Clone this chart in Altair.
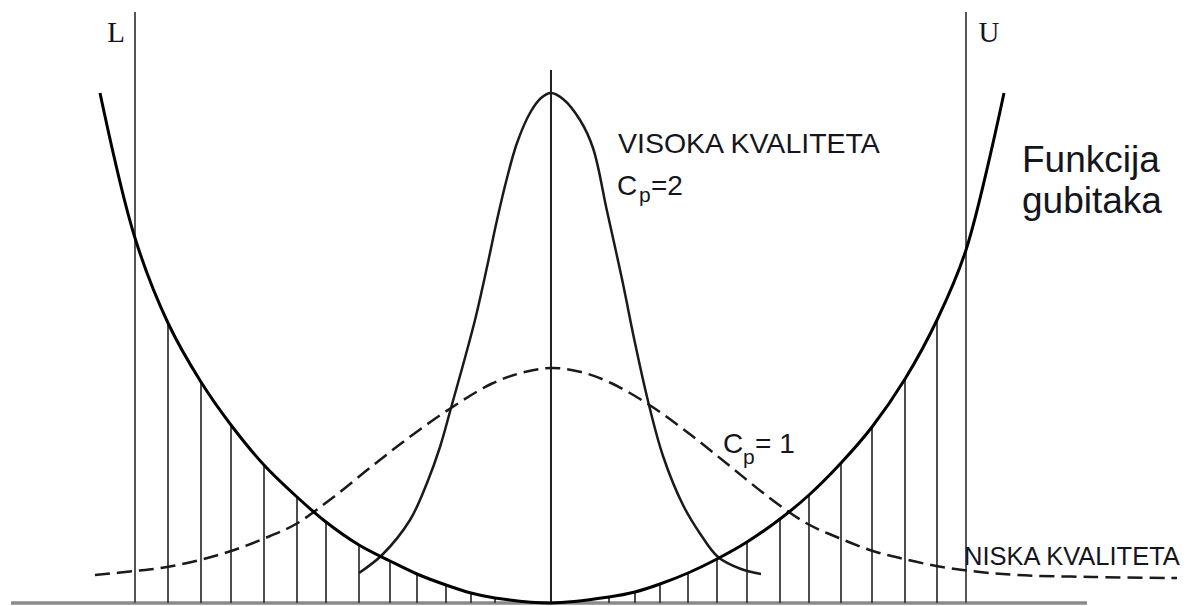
import altair as alt
import pandas as pd

# Units: x = horizontal offset from the target value, y = height above the baseline
# (both in its own pixel units)

# Loss function (Funkcija gubitaka)
loss_x = [-451, -416, -383, -350, -320, -287, -254, -225, -192, -161, -134, -105, -80, -56, 0,
          58, 84, 109, 137, 166, 196, 229, 258, 290, 321, 354, 386, 415, 453]
loss_y = [510, 365, 280, 221, 178, 138, 106, 81, 58, 42, 29, 18, 10, 5, 0,
          6, 11, 19, 30, 44, 61, 84, 108, 140, 176, 224, 283, 353, 510]

# Hatching under the loss function
hatch_x = [-383, -350, -320, -287, -254, -225, -192, -161, -134, -105, -80, -56,
           58, 84, 109, 137, 166, 196, 229, 258, 290, 321, 354, 386]
hatch_top = [280, 221, 178, 138, 106, 81, 58, 42, 29, 18, 10, 5,
             6, 11, 19, 30, 44, 61, 84, 108, 140, 176, 224, 283]

# High quality distribution, Cp = 2 (solid)
cp2_x = [-192, -169, -141, -124, -111, -100, -88, -76, -64, -54, -44, -34, -21, -10, 0,
         12, 29, 42, 56, 71, 84, 97, 112, 132, 150, 167, 190, 210]
cp2_y = [30, 48, 83, 120, 156, 195, 238, 283, 336, 383, 425, 460, 490, 505, 510,
         504, 483, 455, 392, 324, 260, 202, 147, 98, 68, 46, 34, 29]

# Low quality distribution, Cp = 1 (dashed)
cp1_x = [-456, -416, -384, -351, -320, -288, -255, -220, -180, -140, -100, -60, -30, 0,
         30, 60, 100, 140, 180, 220, 255, 288, 322, 353, 391, 429, 466, 542, 626]
cp1_y = [28, 32, 36, 43, 52, 64, 79, 104, 136, 167, 195, 219, 230, 235,
         231, 220, 197, 168, 136, 104, 80, 65, 52, 44, 36, 31, 28, 26, 25]

# Vertical reference lines: L, target, U
vline_names = ["L", "T", "U"]
vline_x = [-416, 0, 415]
vline_top = [591, 533, 591]

# Baseline extent
base_x = [-540]
base_x2 = [536]

# Texts
sans_text = ["VISOKA KVALITETA", "C", "=2", "C", "= 1", "Funkcija", "gubitaka", "NISKA KVALITETA"]
sans_x = [67, 66, 100, 172, 204, 471, 471, 413]
sans_y = [450, 408, 408, 150, 150, 431, 390, 38]
sans_size = [28.5, 28, 28, 28, 28, 37, 37, 25.5]

sub_text = ["p", "p"]
sub_x = [88, 192]
sub_y = [401, 139]

limit_text = ["L", "U"]
limit_x = [-435, 438]
limit_y = [561, 561]

XD = [-543, 636]
YD = [-3, 595]
xs = alt.Scale(domain=XD, nice=False, zero=False)
ys = alt.Scale(domain=YD, nice=False, zero=False)


def X(f="x"):
    return alt.X(f + ":Q", scale=xs, axis=None)


def Y(f="y"):
    return alt.Y(f + ":Q", scale=ys, axis=None)


base_df = pd.DataFrame({"x": base_x, "x2": base_x2, "y": [0]})
baseline = alt.Chart(base_df).mark_rule(color="#8a8a8a", strokeWidth=3.5).encode(
    x=X(), x2="x2:Q", y=Y())

v_df = pd.DataFrame({"name": vline_names, "x": vline_x, "y": [0, 0, 0], "y2": vline_top})
vlines = alt.Chart(v_df).mark_rule(strokeWidth=2).encode(
    x=X(), y=Y(), y2="y2:Q",
    color=alt.Color("name:N", scale=alt.Scale(domain=vline_names, range=["#555555", "#222222", "#555555"]), legend=None))

h_df = pd.DataFrame({"x": hatch_x, "y": [0] * len(hatch_x), "y2": hatch_top})
hatch = alt.Chart(h_df).mark_rule(color="#3a3a3a", strokeWidth=1.8).encode(
    x=X(), y=Y(), y2="y2:Q")

loss_df = pd.DataFrame({"x": loss_x, "y": loss_y, "o": range(len(loss_x))})
loss = alt.Chart(loss_df).mark_line(color="#000000", strokeWidth=3, interpolate="catmull-rom").encode(
    x=X(), y=Y(), order="o:Q")

cp2_df = pd.DataFrame({"x": cp2_x, "y": cp2_y, "o": range(len(cp2_x))})
cp2 = alt.Chart(cp2_df).mark_line(color="#1a1a1a", strokeWidth=2.5, interpolate="catmull-rom").encode(
    x=X(), y=Y(), order="o:Q")

cp1_df = pd.DataFrame({"x": cp1_x, "y": cp1_y, "o": range(len(cp1_x))})
cp1 = alt.Chart(cp1_df).mark_line(color="#1a1a1a", strokeWidth=2.5, strokeDash=[15, 7],
                                  interpolate="catmull-rom").encode(
    x=X(), y=Y(), order="o:Q")

sans_df = pd.DataFrame({"t": sans_text, "x": sans_x, "y": sans_y, "s": sans_size})
sans = alt.Chart(sans_df).mark_text(align="left", baseline="alphabetic", font="Liberation Sans",
                                    color="#151520").encode(
    x=X(), y=Y(), text="t:N", size=alt.Size("s:Q", scale=None, legend=None))

sub_df = pd.DataFrame({"t": sub_text, "x": sub_x, "y": sub_y})
sub = alt.Chart(sub_df).mark_text(align="left", baseline="alphabetic", font="Liberation Sans",
                                  fontSize=21, color="#151520").encode(
    x=X(), y=Y(), text="t:N")

lim_df = pd.DataFrame({"t": limit_text, "x": limit_x, "y": limit_y})
lim = alt.Chart(lim_df).mark_text(align="center", baseline="alphabetic", font="Liberation Serif",
                                  fontSize=29, color="#151520").encode(
    x=X(), y=Y(), text="t:N")

chart = alt.layer(baseline, hatch, vlines, cp1, cp2, loss, sans, sub, lim).properties(
    width=1179, height=598, padding=0, autosize=alt.AutoSizeParams(type="none"),
    background="white"
).configure_view(stroke=None)

chart.save("out.html", embed_options={"renderer": "svg", "actions": False})
